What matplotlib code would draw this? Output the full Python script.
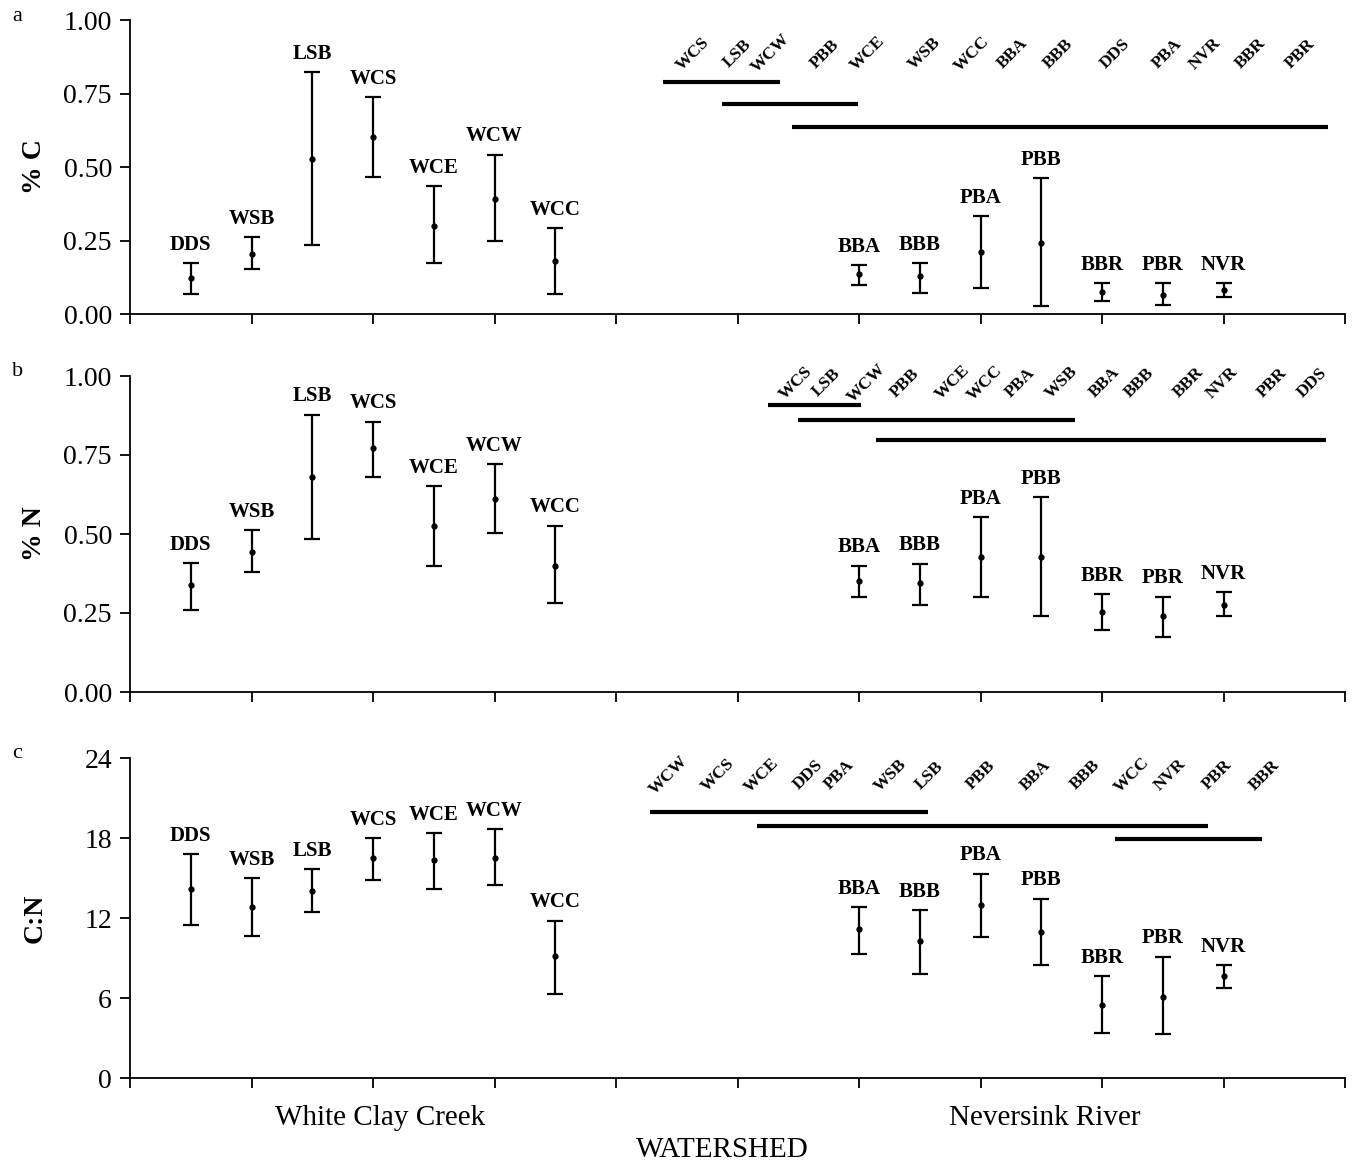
import matplotlib
matplotlib.use("Agg")
import matplotlib.pyplot as plt
import numpy as np

plt.rcParams['font.family'] = ['Liberation Serif', 'DejaVu Serif']

# ---------------- data ----------------
sites = ["DDS", "WSB", "LSB", "WCS", "WCE", "WCW", "WCC",
         "BBA", "BBB", "PBA", "PBB", "BBR", "PBR", "NVR"]
site_x = [0.5, 1.0, 1.5, 2.0, 2.5, 3.0, 3.5,
          6.0, 6.5, 7.0, 7.5, 8.0, 8.5, 9.0]

# %C: mean, upper, lower
c_mean = [0.121, 0.203, 0.527, 0.603, 0.300, 0.391, 0.180,
          0.136, 0.128, 0.212, 0.242, 0.075, 0.066, 0.083]
c_up = [0.172, 0.262, 0.822, 0.737, 0.435, 0.542, 0.293,
        0.166, 0.172, 0.333, 0.462, 0.104, 0.104, 0.104]
c_lo = [0.068, 0.152, 0.234, 0.467, 0.172, 0.248, 0.068,
        0.098, 0.072, 0.090, 0.028, 0.043, 0.029, 0.058]

# %N
n_mean = [0.338, 0.443, 0.680, 0.772, 0.526, 0.612, 0.400,
          0.351, 0.344, 0.428, 0.428, 0.253, 0.240, 0.274]
n_up = [0.407, 0.512, 0.878, 0.855, 0.652, 0.722, 0.526,
        0.400, 0.406, 0.554, 0.616, 0.309, 0.302, 0.315]
n_lo = [0.260, 0.380, 0.484, 0.680, 0.400, 0.504, 0.281,
        0.302, 0.274, 0.302, 0.240, 0.196, 0.175, 0.240]

# C:N
cn_mean = [14.17, 12.83, 14.02, 16.50, 16.34, 16.49, 9.13,
           11.14, 10.29, 12.99, 10.97, 5.45, 6.10, 7.64]
cn_up = [16.8, 15.0, 15.66, 18.0, 18.36, 18.68, 11.8,
         12.8, 12.6, 15.33, 13.46, 7.62, 9.10, 8.45]
cn_lo = [11.5, 10.64, 12.48, 14.83, 14.17, 14.50, 6.30,
         9.28, 7.77, 10.61, 8.45, 3.40, 3.28, 6.78]

# significance groupings (ordered labels, x-positions, bars)
a_grp_labels = ["WCS", "LSB", "WCW", "PBB", "WCE", "WSB", "WCC",
                "BBA", "BBB", "DDS", "PBA", "NVR", "BBR", "PBR"]
a_grp_x = [4.63, 5.0, 5.27, 5.72, 6.07, 6.54, 6.93, 7.26, 7.64, 8.11, 8.54, 8.85, 9.22, 9.63]
a_bars = [(4.39, 5.35, 0.789), (4.87, 5.99, 0.714), (5.45, 9.86, 0.636)]

b_grp_labels = ["WCS", "LSB", "WCW", "PBB", "WCE", "WCC", "PBA",
                "WSB", "BBA", "BBB", "BBR", "NVR", "PBR", "DDS"]
b_grp_x = [5.48, 5.73, 6.06, 6.38, 6.77, 7.04, 7.33, 7.67, 8.02, 8.31, 8.71, 8.99, 9.40, 9.73]
b_bars = [(5.25, 6.02, 0.908), (5.50, 7.78, 0.861), (6.14, 9.84, 0.797)]

c_grp_labels = ["WCW", "WCS", "WCE", "DDS", "PBA", "WSB", "LSB",
                "PBB", "BBA", "BBB", "WCC", "NVR", "PBR", "BBR"]
c_grp_x = [4.43, 4.84, 5.20, 5.58, 5.84, 6.26, 6.58, 7.0, 7.45, 7.86, 8.25, 8.56, 8.95, 9.34]
c_bars = [(4.28, 6.57, 19.95), (5.16, 8.87, 18.9), (8.11, 9.32, 17.93)]

panels = [
    dict(letter="a", ylabel="% C", mean=c_mean, up=c_up, lo=c_lo,
         ylim=(0, 1.0), yticks=[0, 0.25, 0.5, 0.75, 1.0], fmt="{:.2f}",
         glab=a_grp_labels, gx=a_grp_x, gy=0.885, bars=a_bars,
         rect=[130/1357, 1-314/1165, 1215/1357, 294/1165]),
    dict(letter="b", ylabel="% N", mean=n_mean, up=n_up, lo=n_lo,
         ylim=(0, 1.0), yticks=[0, 0.25, 0.5, 0.75, 1.0], fmt="{:.2f}",
         glab=b_grp_labels, gx=b_grp_x, gy=0.978, bars=b_bars,
         rect=[130/1357, 1-692/1165, 1215/1357, 316/1165]),
    dict(letter="c", ylabel="C:N", mean=cn_mean, up=cn_up, lo=cn_lo,
         ylim=(0, 24), yticks=[0, 6, 12, 18, 24], fmt="{:d}",
         glab=c_grp_labels, gx=c_grp_x, gy=22.7, bars=c_bars,
         rect=[130/1357, 1-1078/1165, 1215/1357, 320/1165]),
]

fig = plt.figure(figsize=(13.57, 11.65), dpi=100)

for p in panels:
    ax = fig.add_axes(p["rect"])
    mean = np.array(p["mean"])
    yerr = np.vstack([mean - np.array(p["lo"]), np.array(p["up"]) - mean])
    ax.errorbar(site_x, mean, yerr=yerr, fmt="o", color="black", ms=3.5,
                ecolor="black", elinewidth=1.6, capsize=6, capthick=1.6)
    for x, top, name in zip(site_x, p["up"], sites):
        ax.annotate(name, (x, top), xytext=(0, 6), textcoords="offset points",
                    ha="center", va="bottom", fontsize=15, fontweight="bold")
    for name, x in zip(p["glab"], p["gx"]):
        ax.text(x, p["gy"], name, rotation=45, ha="center", va="center",
                rotation_mode="anchor", fontsize=12.5, fontweight="bold",
                clip_on=False)
    for x0, x1, y in p["bars"]:
        ax.plot([x0, x1], [y, y], color="black", lw=3, solid_capstyle="butt")
    ax.set_xlim(0, 10)
    ax.set_ylim(*p["ylim"])
    ax.set_xticks(np.arange(0, 11))
    ax.set_xticklabels([])
    ax.set_yticks(p["yticks"])
    if p["fmt"] == "{:d}":
        ax.set_yticklabels([str(int(t)) for t in p["yticks"]])
    else:
        ax.set_yticklabels([p["fmt"].format(t) for t in p["yticks"]])
    for s in ["top", "right"]:
        ax.spines[s].set_visible(False)
    for s in ["left", "bottom"]:
        ax.spines[s].set_linewidth(1.3)
    ax.tick_params(axis="both", direction="out", length=7, width=1.3,
                   labelsize=20, pad=6)
    ax.set_ylabel(p["ylabel"], fontsize=20, fontweight="bold")
    ax.yaxis.set_label_coords(-0.068, 0.5)
    r = p["rect"]
    fig.text(12/1357, r[1] + r[3] + 4/1165, p["letter"], fontsize=16,
             ha="left", va="center")

fig.text(380/1357, 1-1118/1165, "White Clay Creek", fontsize=21, ha="center", va="center")
fig.text(1045/1357, 1-1118/1165, "Neversink River", fontsize=21, ha="center", va="center")
fig.text(722/1357, 1-1150/1165, "WATERSHED", fontsize=21, ha="center", va="center")

fig.savefig("out.png", dpi=100)
